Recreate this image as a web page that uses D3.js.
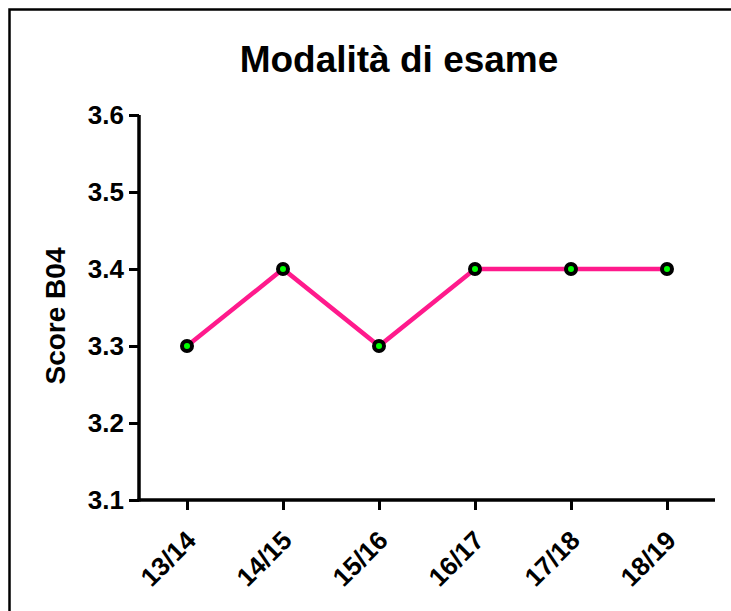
<!DOCTYPE html>
<html>
<head>
<meta charset="utf-8">
<script src="https://cdn.jsdelivr.net/npm/d3@7"></script>
<style>
  html, body { margin: 0; background: #fff; overflow: hidden; }
  svg { display: block; }
  text { font-family: Arial, "Liberation Sans", sans-serif; font-weight: bold; fill: #000; }
</style>
</head>
<body>
<div id="chart"></div>
<script>
// dati
var anni = ["13/14", "14/15", "15/16", "16/17", "17/18", "18/19"];
var punteggi = [3.3, 3.4, 3.3, 3.4, 3.4, 3.4];
var yTicks = [3.1, 3.2, 3.3, 3.4, 3.5, 3.6];

const W = 731, H = 611;
const mLeft = 139, mRight = 715, mTop = 115, mBottom = 500;
const fontFam = "Arial, 'Liberation Sans', sans-serif";

const svg = d3.select("#chart").append("svg")
  .attr("width", W).attr("height", H);

// cornice (solo lati sinistro e superiore visibili)
svg.append("path")
  .attr("d", "M9.5," + H + "V9.5H" + W)
  .attr("fill", "none").attr("stroke", "#000").attr("stroke-width", 2.5);

const x = d3.scalePoint().domain(anni).range([mLeft, mRight]).padding(0.5);
const y = d3.scaleLinear().domain([3.1, 3.6]).range([mBottom, mTop]);

// asse y
const gy = svg.append("g")
  .attr("transform", `translate(${mLeft},0)`)
  .call(d3.axisLeft(y).tickValues(yTicks).tickFormat(d3.format(".1f")).tickSize(10).tickSizeOuter(0).tickPadding(5));
gy.select(".domain").attr("stroke-width", 3.5).attr("d", `M0,${mBottom + 1.5}V${mTop}`);
gy.selectAll(".tick line").attr("stroke-width", 3);
gy.selectAll(".tick text").style("font-size", "26px").style("font-family", fontFam).style("font-weight", "bold");

// asse x
const gx = svg.append("g")
  .attr("transform", `translate(0,${mBottom})`)
  .call(d3.axisBottom(x).tickSize(10).tickSizeOuter(0));
gx.select(".domain").attr("stroke-width", 3.5).attr("d", `M${mLeft - 1.5},0H${mRight}`);
gx.selectAll(".tick line").attr("stroke-width", 3);
gx.selectAll(".tick text")
  .style("font-size", "26px").style("font-family", fontFam).style("font-weight", "bold")
  .attr("text-anchor", "end")
  .attr("dy", null).attr("y", null)
  .attr("transform", "translate(10,42) rotate(-45)");

// linea
svg.append("path")
  .datum(punteggi)
  .attr("fill", "none")
  .attr("stroke", "#ff1a8c")
  .attr("stroke-width", 4.5)
  .attr("d", d3.line().x((d, i) => x(anni[i])).y(d => y(d)));

// punti
svg.append("g").selectAll("circle")
  .data(punteggi)
  .join("circle")
  .attr("cx", (d, i) => x(anni[i]))
  .attr("cy", d => y(d))
  .attr("r", 5)
  .attr("fill", "#00ff00")
  .attr("stroke", "#000")
  .attr("stroke-width", 4);

// titolo
svg.append("text")
  .attr("x", 399).attr("y", 72)
  .attr("text-anchor", "middle")
  .style("font-size", "37px")
  .text("Modalità di esame");

// titolo asse y
svg.append("text")
  .attr("transform", "translate(65,316) rotate(-90)")
  .attr("text-anchor", "middle")
  .style("font-size", "28px")
  .text("Score B04");
</script>
</body>
</html>
